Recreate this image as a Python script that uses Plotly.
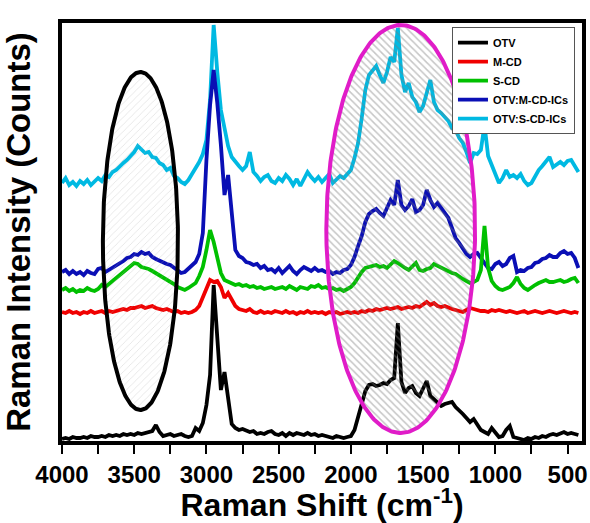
import numpy as np
import plotly.graph_objects as go

# x sampling grid (cm^-1), 4000 -> 425 every 25
wavenumber = list(range(4000, 400, -25))

otv = [2, 3, 2, 4, 3, 3, 4, 3, 5, 4,
       4, 5, 4, 6, 5, 6, 5, 7, 6, 7,
       6, 8, 7, 8, 9, 10, 16, 9, 5, 6,
       7, 5, 6, 7, 5, 4, 5, 13, 10, 18,
       36, 66, 156, 101, 51, 69, 41, 17, 13, 11,
       12, 10, 9, 10, 7, 8, 7, 9, 10, 7,
       6, 8, 5, 8, 6, 8, 7, 6, 8, 6,
       7, 5, 6, 5, 4, 3, 5, 4, 3, 4,
       5, 11, 24, 37, 50, 56, 57, 55, 56, 58,
       57, 61, 63, 118, 59, 48, 53, 55, 48, 45,
       53, 60, 45, 42, 39, 35, 37, 38, 39, 34,
       31, 27, 23, 19, 22, 17, 11, 9, 7, 13,
       9, 4, 5, 11, 15, 4, 3, 2, 1, 3,
       2, 4, 3, 5, 4, 6, 7, 6, 8, 9,
       7, 8, 7, 6]

m_cd = [129, 128, 130, 128, 129, 127, 129, 128, 130, 128,
        129, 130, 128, 130, 129, 130, 131, 132, 131, 133,
        133, 134, 135, 133, 134, 135, 133, 132, 131, 132,
        130, 129, 130, 128, 129, 128, 129, 131, 135, 143,
        151, 161, 159, 160, 154, 143, 148, 142, 135, 132,
        131, 130, 132, 129, 128, 130, 128, 129, 128, 130,
        129, 128, 130, 128, 129, 127, 129, 128, 130, 128,
        129, 128, 129, 127, 129, 128, 129, 127, 128, 129,
        128, 129, 128, 130, 129, 131, 130, 132, 131, 132,
        133, 132, 133, 134, 132, 133, 134, 133, 135, 134,
        136, 139, 136, 138, 135, 134, 135, 133, 132, 131,
        130, 129, 131, 133, 132, 131, 130, 130, 129, 131,
        130, 131, 130, 129, 130, 129, 128, 129, 130, 128,
        129, 130, 129, 128, 129, 130, 129, 128, 129, 130,
        129, 128, 129, 128]

s_cd = [151, 153, 150, 152, 149, 151, 150, 153, 151, 150,
        152, 156, 154, 157, 160, 163, 166, 168, 171, 175,
        178, 177, 174, 173, 172, 170, 168, 166, 163, 161,
        159, 157, 154, 152, 151, 153, 155, 158, 165, 174,
        191, 211, 199, 184, 168, 161, 159, 158, 156, 157,
        155, 156, 154, 155, 153, 154, 152, 153, 154, 152,
        153, 154, 152, 155, 153, 151, 154, 153, 152, 155,
        154, 156, 153, 154, 152, 153, 151, 152, 150, 152,
        154, 158, 164, 169, 173, 174, 175, 176, 174, 175,
        173, 177, 180, 178, 175, 173, 171, 175, 178, 171,
        170, 172, 173, 177, 175, 173, 171, 169, 168, 167,
        164, 162, 160, 158, 159, 161, 171, 215, 173, 160,
        155, 152, 151, 153, 154, 158, 164, 157, 153, 151,
        154, 156, 158, 160, 161, 159, 159, 160, 161, 159,
        160, 162, 163, 158]

otv_m_cd_ics = [169, 171, 167, 170, 167, 169, 166, 170, 168, 167,
                172, 173, 169, 171, 173, 175, 178, 180, 183, 184,
                187, 186, 189, 187, 188, 184, 182, 180, 179, 177,
                176, 173, 171, 168, 169, 172, 175, 179, 187, 208,
                281, 336, 371, 338, 296, 246, 266, 226, 191, 185,
                183, 179, 178, 176, 177, 173, 175, 171, 172, 169,
                173, 168, 171, 175, 170, 167, 171, 174, 172, 170,
                173, 170, 171, 169, 170, 167, 169, 168, 171, 172,
                176, 184, 195, 205, 219, 227, 230, 232, 228, 225,
                233, 241, 236, 261, 236, 231, 235, 242, 229, 231,
                236, 251, 241, 234, 238, 233, 229, 223, 213, 203,
                198, 192, 187, 184, 187, 188, 183, 178, 173, 172,
                177, 179, 175, 177, 183, 185, 169, 171, 170, 173,
                174, 178, 179, 182, 183, 186, 184, 184, 188, 190,
                187, 188, 183, 173]

otv_s_cd_ics = [258, 263, 256, 259, 255, 260, 257, 261, 256, 259,
                263, 260, 266, 264, 269, 271, 275, 278, 281, 285,
                289, 295, 291, 288, 289, 284, 283, 278, 276, 271,
                273, 265, 263, 259, 257, 261, 267, 273, 279, 287,
                301, 341, 416, 369, 331, 313, 295, 284, 279, 275,
                271, 275, 289, 269, 265, 260, 264, 266, 260, 258,
                263, 260, 266, 262, 256, 262, 255, 263, 269, 264,
                260, 264, 259, 263, 267, 258, 262, 265, 263, 267,
                271, 283, 298, 323, 351, 366, 371, 375, 366, 358,
                369, 384, 379, 413, 366, 349, 358, 344, 339, 329,
                335, 349, 361, 339, 331, 328, 324, 320, 313, 311,
                303, 298, 289, 278, 288, 287, 291, 316, 285, 276,
                269, 258, 263, 271, 264, 266, 263, 267, 260, 256,
                258, 265, 271, 275, 279, 284, 274, 277, 279, 276,
                280, 281, 275, 269]

series_names = ["OTV", "M-CD", "S-CD", "OTV:M-CD-ICs", "OTV:S-CD-ICs"]
series_values = [otv, m_cd, s_cd, otv_m_cd_ics, otv_s_cd_ics]
series_colors = ["#000000", "#F00000", "#00C000", "#0A0FB5", "#00B9E2"]

for v in series_values:
    assert len(v) == len(wavenumber), (len(v), len(wavenumber))

# highlight ellipses: (center x, center y, radius x, radius y)
ellipse_black = (3457, 200, 260, 169)
ellipse_magenta = (1655, 212, 515, 204)

fig = go.Figure()

# draw OTV last (on top); legend shown reversed so OTV is first
for name, vals, col in reversed(list(zip(series_names, series_values, series_colors))):
    fig.add_trace(go.Scatter(x=wavenumber, y=vals, name=name, mode="lines",
                             line=dict(color=col, width=3.8)))

t = np.linspace(0, 2 * np.pi, 361)


def ellipse_trace(params, line_color, pat_shape, pat_color, pat_size, solidity):
    cx, cy, rx, ry = params
    return go.Scatter(
        x=cx + rx * np.cos(t), y=cy + ry * np.sin(t),
        mode="lines", fill="toself", fillcolor="rgba(0,0,0,0)",
        fillpattern=dict(shape=pat_shape, fgcolor=pat_color,
                         bgcolor="rgba(255,255,255,0)", size=pat_size,
                         solidity=solidity),
        line=dict(color=line_color, width=4),
        showlegend=False, hoverinfo="skip")


fig.add_trace(ellipse_trace(ellipse_black, "#000000", "/", "rgba(175,175,175,0.7)", 5, 0.16))
fig.add_trace(ellipse_trace(ellipse_magenta, "#E01CC8", "\\", "rgba(120,120,120,0.85)", 5, 0.3))

fig.update_layout(
    width=590, height=523,
    margin=dict(l=62, r=8, t=23, b=82),
    paper_bgcolor="white", plot_bgcolor="white",
    font=dict(family="Liberation Sans, Arial, sans-serif", color="black"),
    showlegend=True,
    legend=dict(x=0.9865, y=0.99, xanchor="right", yanchor="top",
                traceorder="reversed", bgcolor="white", bordercolor="#555555",
                borderwidth=1, font=dict(size=11, weight="bold"),
                itemwidth=30, tracegroupgap=0),
)

fig.update_xaxes(
    range=[4000, 400], dtick=500, tick0=0,
    ticks="outside", ticklen=9, tickwidth=2, tickcolor="black",
    minor=dict(dtick=250, ticks="outside", ticklen=9, tickwidth=2, tickcolor="black"),
    showline=True, linewidth=3.5, linecolor="black", mirror=True,
    showgrid=False, zeroline=False,
    tickfont=dict(size=24, weight="bold"),
    title=dict(text="Raman Shift (cm<sup>-1</sup>)", font=dict(size=32, weight="bold"), standoff=8),
    automargin=False,
)
fig.update_yaxes(
    range=[0, 418], showticklabels=False, ticks="",
    showline=True, linewidth=3.5, linecolor="black", mirror=True,
    showgrid=False, zeroline=False,
    title=dict(text="Raman Intensity (Counts)", font=dict(size=33, weight="bold"), standoff=24),
    automargin=False,
)

fig.write_html("out.html")
